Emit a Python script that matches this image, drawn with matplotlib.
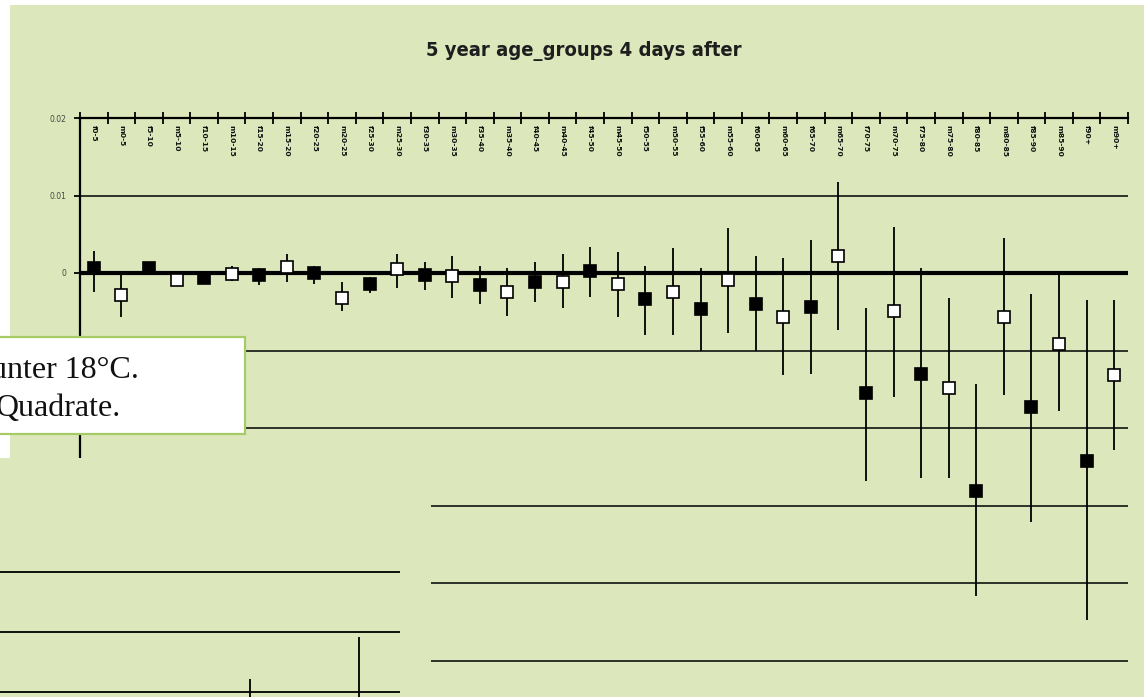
import matplotlib
matplotlib.use('Agg')
import matplotlib.pyplot as plt
from matplotlib.patches import Rectangle
import numpy as np

# ---------------- data ----------------
groups = ['0-5', '5-10', '10-15', '15-20', '20-25', '25-30', '30-35', '35-40',
          '40-45', '45-50', '50-55', '55-60', '60-65', '65-70', '70-75', '75-80',
          '80-85', '85-90', '90+']
sexes = ['f', 'm']
categories = [f'{s}{g}' for g in groups for s in sexes]

means = [0.0006, -0.0029, 0.0006, -0.0009, -0.0007, -0.0001, -0.0003, 0.0008,
         0.0000, -0.0032, -0.0014, 0.0005, -0.0003, -0.0004, -0.0016, -0.0024,
         -0.0011, -0.0011, 0.0002, -0.0014, -0.0034, -0.0024, -0.0047, -0.0009,
         -0.0040, -0.0057, -0.0044, 0.0022, -0.0155, -0.0049, -0.0130, -0.0148,
         -0.0281, -0.0057, -0.0173, -0.0091, -0.0243, -0.0132]
upper = [0.0029, -0.0003, 0.0010, -0.0006, 0.0003, 0.0009, 0.0006, 0.0025,
         0.0009, -0.0012, -0.0005, 0.0025, 0.0014, 0.0022, 0.0009, 0.0006,
         0.0014, 0.0025, 0.0034, 0.0027, 0.0009, 0.0032, 0.0006, 0.0058,
         0.0022, 0.0019, 0.0042, 0.0117, -0.0045, 0.0060, 0.0006, -0.0032,
         -0.0143, 0.0045, -0.0027, -0.0002, -0.0035, -0.0035]
lower = [-0.0024, -0.0057, 0.0002, -0.0012, -0.0010, -0.0010, -0.0016, -0.0011,
         -0.0014, -0.0049, -0.0026, -0.0019, -0.0022, -0.0032, -0.0040, -0.0055,
         -0.0038, -0.0045, -0.0031, -0.0057, -0.0080, -0.0080, -0.0100, -0.0078,
         -0.0100, -0.0132, -0.0130, -0.0073, -0.0268, -0.0160, -0.0265, -0.0265,
         -0.0417, -0.0157, -0.0321, -0.0178, -0.0448, -0.0229]

yticks = [0.02, 0.01, 0, -0.01, -0.02, -0.03, -0.04, -0.05]
ytick_labels = ['0.02', '0.01', '0', '-0.01', '-0.02', '-0.03', '-0.04', '-0.05']

title = '5 year age_groups 4 days after'
note_lines = ['unter 18°C.', 'Quadrate.']

# fragment of a second chart visible in the lower left
frag_grid = [-0.03, -0.04, -0.05]
frag_x = [0.625, 0.8975]
frag_top = [-0.0479, -0.0409]
frag_bottom = [-0.06, -0.06]

# ---------------- style ----------------
GREEN = '#DCE8BC'
BOX_EDGE = '#A6CA66'
W, H = 1144, 697

fig = plt.figure(figsize=(W / 100, H / 100), dpi=100)
fig.patch.set_facecolor(GREEN)

# white margins of the screenshot
fig.add_artist(Rectangle((0, 1 - 5 / H), 1, 5 / H, transform=fig.transFigure,
                         facecolor='white', edgecolor='none', zorder=0.5))
fig.add_artist(Rectangle((0, 1 - 458 / H), 10 / W, 458 / H, transform=fig.transFigure,
                         facecolor='white', edgecolor='none', zorder=0.5))

# ---------------- main axes ----------------
px_per_unit = 7750.0
top_val = 0.02
bottom_val = top_val - (H - 118) / px_per_unit
ax = fig.add_axes([80 / W, 0, 1048 / W, (H - 118) / H])
ax.set_facecolor('none')
ax.set_xlim(-0.5, len(categories) - 0.5)
ax.set_ylim(bottom_val, top_val)

for s in ['bottom', 'right']:
    ax.spines[s].set_visible(False)
ax.spines['left'].set_linewidth(1.6)
ax.spines['top'].set_linewidth(1.6)

ax.xaxis.set_ticks_position('top')
ax.set_xticks(np.arange(-0.5, len(categories), 1.0))
ax.set_xticklabels([])
ax.tick_params(axis='x', direction='inout', length=8, width=1.3, color='black')

ax.set_yticks(yticks)
ax.set_yticklabels(ytick_labels)
ax.tick_params(axis='y', direction='out', length=4, width=1.3, pad=6,
               labelsize=5.5, labelcolor='#444444')

for v in yticks:
    if v == 0:
        ax.axhline(v, color='black', lw=3.0, zorder=1.5)
    elif v != top_val:
        ax.axhline(v, color='black', lw=1.1, zorder=1.2)

x = np.arange(len(categories))
ax.vlines(x, lower, upper, color='black', lw=1.3, zorder=2)
for i, (m, c) in enumerate(zip(means, categories)):
    fc = 'black' if c.startswith('f') else 'white'
    ax.plot(i, m, marker='s', markersize=8.3, markerfacecolor=fc,
            markeredgecolor='black', markeredgewidth=1.2, zorder=3, linestyle='none')

for i, c in enumerate(categories):
    ax.text(i, 0.0191, c, rotation=270, ha='center', va='top', fontsize=5.4,
            fontweight='bold', color='#111111', zorder=3)

# title
fig.text(584 / W, 1 - 51 / H, title, ha='center', va='center', fontsize=14.5,
         family=['DejaVu Sans'], fontstretch='condensed', fontweight='bold',
         color='#1e1e1e')

# ---------------- overlays ----------------
# lower-left patch of another chart
fig.add_artist(Rectangle((0, 0), 431 / W, (H - 458) / H, transform=fig.transFigure,
                         facecolor=GREEN, edgecolor='none', zorder=4))
fax = fig.add_axes([0, 0, 400 / W, (H - 458) / H])
fax.set_zorder(5)
fax.set_facecolor('none')
fax.set_xlim(0, 1)
frag_px = 60 * 100  # 60 px per 0.01
fax.set_ylim(-0.03 - (H - 571.7) / frag_px, -0.03 + (571.7 - 458) / frag_px)
fax.axis('off')
for v in frag_grid:
    fax.axhline(v, color='black', lw=1.3)
fax.vlines(frag_x, frag_bottom, frag_top, color='black', lw=1.3)

# text box
fig.add_artist(Rectangle((-3 / W, 1 - 434 / H), 248 / W, 97 / H, transform=fig.transFigure,
                         facecolor='white', edgecolor=BOX_EDGE, lw=1.6, zorder=6))
fig.text(139 / W, 1 - 378 / H, note_lines[0], ha='right', va='baseline', fontsize=23,
         family=['Liberation Serif', 'DejaVu Serif'], color='#111111', zorder=7)
fig.text(121 / W, 1 - 416 / H, note_lines[1], ha='right', va='baseline', fontsize=23,
         family=['Liberation Serif', 'DejaVu Serif'], color='#111111', zorder=7)

fig.savefig('out.png', dpi=100, facecolor=fig.get_facecolor())
